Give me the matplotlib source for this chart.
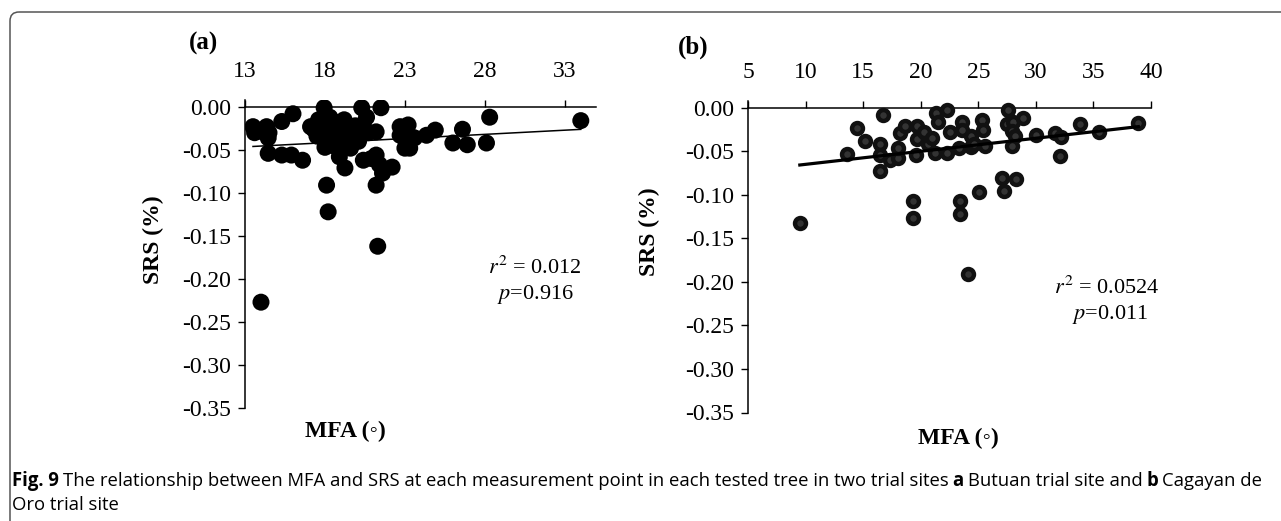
import numpy as np
import matplotlib
matplotlib.use('Agg')
import matplotlib.pyplot as plt
from matplotlib.patches import FancyBboxPatch
from matplotlib import font_manager

# Data
# (a) Butuan trial site
mfa_a = [13.5, 13.6, 13.9, 14.35, 14.45, 14.5, 14.45, 15.3, 16.0, 15.3, 15.9, 16.6,
         17.1, 17.95, 17.5, 17.7, 18.0, 18.2, 18.3, 18.6, 18.0, 18.5, 18.8, 19.0,
         19.2, 18.9, 19.4, 17.6, 18.1, 18.2, 20.3, 21.5, 21.2, 19.9, 20.4, 20.6,
         19.8, 20.1, 19.25, 18.9, 19.25, 20.4, 20.9, 21.2, 21.4, 22.2, 21.6, 21.2,
         21.3, 14.0, 22.7, 23.2, 22.9, 23.3, 23.6, 24.35, 24.9, 26.0, 26.6, 26.9,
         28.1, 28.3, 34.0, 20.7, 19.6, 18.4, 17.3, 22.7, 23.0, 23.5]
srs_a = [-0.023, -0.030, -0.028, -0.023, -0.036, -0.030, -0.054, -0.017, -0.008, -0.056, -0.056, -0.062,
         -0.023, -0.001, -0.034, -0.028, -0.040, -0.020, -0.012, -0.030, -0.047, -0.045, -0.018, -0.025,
         -0.015, -0.036, -0.028, -0.015, -0.091, -0.122, -0.001, -0.001, -0.029, -0.022, -0.020, -0.012,
         -0.037, -0.040, -0.042, -0.058, -0.071, -0.062, -0.060, -0.056, -0.067, -0.070, -0.077, -0.091,
         -0.162, -0.227, -0.023, -0.021, -0.035, -0.048, -0.036, -0.033, -0.027, -0.042, -0.026, -0.044,
         -0.042, -0.012, -0.016, -0.030, -0.048, -0.038, -0.026, -0.033, -0.048, -0.036]

# (b) Cagayan de Oro trial site
mfa_b = [9.5, 13.6, 14.5, 15.2, 16.75, 16.5, 16.5, 16.5, 17.3, 18.0, 18.0, 18.2, 18.6,
         19.7, 19.7, 19.6, 20.65, 20.3, 21.3, 21.5, 22.3, 21.2, 22.3, 22.5, 23.55, 23.3,
         24.4, 24.4, 25.3, 25.4, 24.6, 25.6, 27.6, 27.5, 28.0, 27.9, 28.2, 28.85, 27.9,
         30.05, 31.7, 32.2, 32.1, 33.8, 35.5, 38.9, 27.1, 28.3, 27.2, 25.1, 19.3, 19.3,
         23.4, 23.4, 24.1, 23.6, 21.0]
srs_b = [-0.132, -0.053, -0.023, -0.038, -0.008, -0.041, -0.054, -0.073, -0.060, -0.058, -0.046, -0.029, -0.021,
         -0.021, -0.036, -0.054, -0.041, -0.028, -0.006, -0.016, -0.002, -0.052, -0.052, -0.028, -0.016, -0.046,
         -0.032, -0.045, -0.014, -0.025, -0.041, -0.044, -0.002, -0.018, -0.016, -0.027, -0.032, -0.011, -0.044,
         -0.031, -0.029, -0.033, -0.055, -0.019, -0.028, -0.017, -0.080, -0.082, -0.095, -0.097, -0.107, -0.127,
         -0.107, -0.122, -0.191, -0.025, -0.035]

# linear trend lines (slope, intercept) as drawn in the figure
fit_a = (0.00097, -0.0591)
fit_b = (0.0015, -0.0798)

stats_a = ['0.012', '0.916']
stats_b = ['0.0524', '0.011']

xticks_a = [13, 18, 23, 28, 33]
xticks_b = [5, 10, 15, 20, 25, 30, 35, 40]
yticks = [0.0, -0.05, -0.10, -0.15, -0.20, -0.25, -0.30, -0.35]

caption_1 = [('Fig. 9', 'bold'),
             ('The relationship between MFA and SRS at each measurement point in each tested tree in two trial sites', 'normal'),
             ('a', 'bold'), ('Butuan trial site and', 'normal'), ('b', 'bold'), ('Cagayan de', 'normal')]
caption_2 = 'Oro trial site'

SERIF = ['Liberation Serif', 'DejaVu Serif']
plt.rcParams['mathtext.fontset'] = 'stix'

W, H = 1281, 521
fig = plt.figure(figsize=(W / 100, H / 100), dpi=100)

# background axes in pixel units for the frame and caption
bg = fig.add_axes([0, 0, 1, 1])
bg.set_xlim(0, W)
bg.set_ylim(H, 0)
bg.axis('off')
bg.add_patch(FancyBboxPatch((10, 12), 1400, 600, boxstyle='round,pad=0,rounding_size=9',
                            fc='none', ec='#555555', lw=1.1))


def px_axes(left, top, right, bottom):
    return fig.add_axes([left / W, 1 - bottom / H, (right - left) / W, (bottom - top) / H])


def style(ax, xlim, xticks):
    ax.set_xlim(*xlim)
    ax.set_ylim(-0.35, 0.008)
    ax.spines['right'].set_visible(False)
    ax.spines['bottom'].set_visible(False)
    ax.spines['top'].set_position(('data', 0))
    ax.xaxis.set_ticks_position('top')
    ax.set_xticks(xticks)
    ax.set_xticklabels([str(t) for t in xticks])
    ax.set_yticks(yticks)
    ax.set_yticklabels(['%.2f' % t if t != 0 else '0.00' for t in yticks])
    ax.tick_params(axis='x', direction='out', length=5, width=1, pad=13, labelsize=17)
    ax.tick_params(axis='y', direction='out', length=5, width=1, pad=5, labelsize=17)
    for lab in ax.get_xticklabels() + ax.get_yticklabels():
        lab.set_family(SERIF)
    for s in ['top', 'left']:
        ax.spines[s].set_linewidth(1.1)
    ax.patch.set_alpha(0)


# panel (a)
ax1 = px_axes(245, 100, 596, 408)
style(ax1, (13, 34.95), xticks_a)
ax1.scatter(mfa_a, srs_a, s=150, c='black', edgecolors='none', zorder=3)
xa = np.array([min(mfa_a), max(mfa_a)])
ax1.plot(xa, fit_a[0] * xa + fit_a[1], color='black', lw=1.1, zorder=4)

# panel (b)
ax2 = px_axes(748, 101, 1151, 412.5)
style(ax2, (5, 40), xticks_b)
ax2.scatter(mfa_b, srs_b, s=62, c='#333333', edgecolors='#111111', linewidths=3.2, zorder=3)
xb = np.array([min(mfa_b), max(mfa_b)])
ax2.plot(xb, fit_b[0] * xb + fit_b[1], color='black', lw=2.3, zorder=4)

# panel titles, axis labels, statistics
bg.text(203, 43, '(a)', ha='center', va='center', size=18, weight='bold', family=SERIF)
bg.text(693, 47, '(b)', ha='center', va='center', size=18, weight='bold', family=SERIF)
bg.text(153, 240, 'SRS (%)', ha='center', va='center', rotation=90, size=17, weight='bold', family=SERIF)
bg.text(649, 232, 'SRS (%)', ha='center', va='center', rotation=90, size=17, weight='bold', family=SERIF)
bg.text(345, 431, 'MFA (\u25e6)', ha='center', va='center', size=17, weight='bold', family=SERIF)
bg.text(958, 438, 'MFA (\u25e6)', ha='center', va='center', size=17, weight='bold', family=SERIF)
bg.text(535, 268, r'$r^2$ = ' + stats_a[0], ha='center', va='center', size=16, family=SERIF)
bg.text(535, 295, r'$p$=' + stats_a[1], ha='center', va='center', size=16, family=SERIF)
bg.text(1107, 288, r'$r^2$ = ' + stats_b[0], ha='center', va='center', size=16, family=SERIF)
bg.text(1110, 315, r'$p$=' + stats_b[1], ha='center', va='center', size=16, family=SERIF)

# caption, fitted to the line width of the original
bold_families = {f.name for f in font_manager.fontManager.ttflist
                 if isinstance(f.weight, int) and f.weight >= 600 or f.weight == 'bold'}
cap_font = 'Liberation Sans'
for name in ['Open Sans', 'Noto Sans', 'Lato', 'Roboto']:
    if name in bold_families:
        cap_font = name
        break
renderer = fig.canvas.get_renderer()


def draw_caption(size):
    texts = []
    x = 12
    for piece, weight in caption_1:
        t = bg.text(x, 481, piece, ha='left', va='center', size=size, weight=weight, family=cap_font)
        bb = t.get_window_extent(renderer=renderer)
        x += bb.width + size * 0.3
        texts.append(t)
    return texts, x - size * 0.3


texts, end = draw_caption(11)
scale = (1265 - 12) / (end - 12)
for t in texts:
    t.remove()
size = 11 * scale
draw_caption(size)
bg.text(12, 505, caption_2, ha='left', va='center', size=size, family=cap_font)

fig.savefig('out.png', dpi=100)
